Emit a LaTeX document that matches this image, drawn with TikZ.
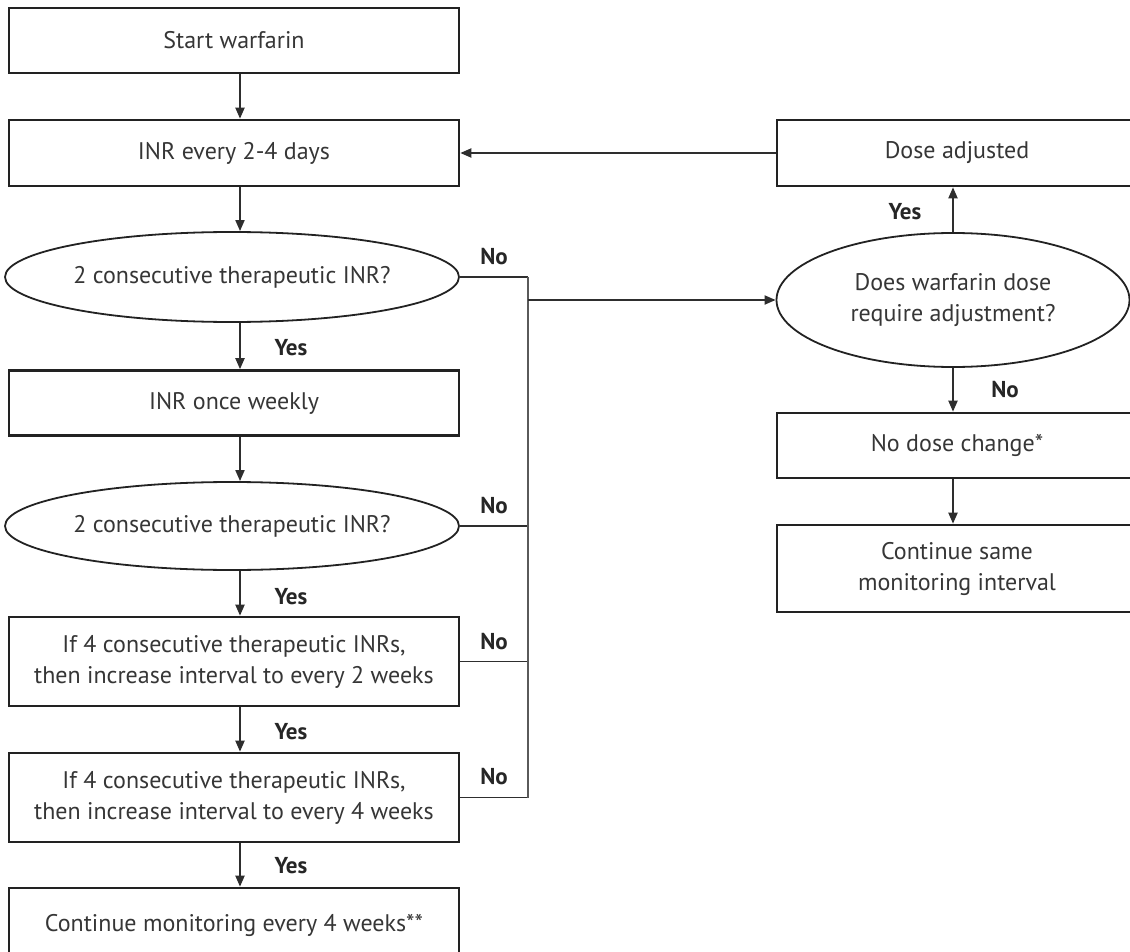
\documentclass[tikz,border=0pt]{standalone}
\usepackage{fontspec}
\setmainfont{PT Sans}
\usetikzlibrary{arrows.meta,shapes.geometric}

\definecolor{ink}{HTML}{363636}
\definecolor{edge}{HTML}{222222}
\definecolor{wire}{HTML}{2E2E2E}
\definecolor{bus}{HTML}{5A5A5A}

\tikzset{
  stepbox/.style={draw=edge, line width=2.6pt, fill=white, rectangle,
    minimum width=450pt, align=center, text=ink, inner sep=0pt,
    font=\fontsize{24}{31}\selectfont},
  rightbox/.style={stepbox, minimum width=360pt},
  query/.style={draw=edge, line width=1.8pt, fill=white, ellipse,
    inner sep=0pt, align=center, text=ink,
    font=\fontsize{24}{31}\selectfont},
  flow/.style={draw=wire, line width=1.9pt,
    -{Triangle[length=11pt,width=9pt]}},
  plain/.style={draw=wire, line width=1.9pt},
  busline/.style={draw=bus, line width=2pt},
  tag/.style={text=black!85, font=\fontsize{23}{28}\selectfont\bfseries},
}

\begin{document}
\begin{tikzpicture}[x=1pt, y=-1pt]
  \useasboundingbox (0,0) rectangle (1130,952);

  % left column
  \node[stepbox, minimum height=65pt] (start) at (234,40.5) {Start warfarin};
  \node[stepbox, minimum height=66pt] (inr24) at (234,153) {INR every 2-4 days};
  \node[query, minimum width=454pt, minimum height=90pt] (q1) at (232,277)
    {2 consecutive therapeutic INR?};
  \node[stepbox, minimum height=65pt] (weekly) at (234,403) {INR once weekly};
  \node[query, minimum width=454pt, minimum height=88pt] (q2) at (232,526)
    {2 consecutive therapeutic INR?};
  \node[stepbox, minimum height=89pt] (two) at (234,661.5)
    {If 4 consecutive therapeutic INRs,\\then increase interval to every 2 weeks};
  \node[stepbox, minimum height=89pt] (four) at (234,797.5)
    {If 4 consecutive therapeutic INRs,\\then increase interval to every 4 weeks};
  \node[stepbox, minimum height=80pt, text depth=10pt] (keep) at (234,928)
    {Continue monitoring every 4 weeks**};

  % right column
  \node[rightbox, minimum height=66pt] (adjusted) at (957,153) {Dose adjusted};
  \node[query, minimum width=353pt, minimum height=134pt] (q3) at (953,300)
    {Does warfarin dose\\require adjustment?};
  \node[rightbox, minimum height=65pt] (nochange) at (957,445.5) {No dose change*};
  \node[rightbox, minimum height=87pt] (same) at (957,568.5)
    {Continue same\\monitoring interval};

  % vertical "No" collector
  \coordinate (rail) at (528,0);
  \coordinate (tap) at (528,300);

  % main downward path
  \draw[flow] ([xshift=6pt]start.south) -- ([xshift=6pt]inr24.north);
  \draw[flow] ([xshift=6pt]inr24.south) -- ([xshift=8pt]q1.north);
  \draw[flow] ([xshift=8pt]q1.south) -- ([xshift=6pt]weekly.north);
  \draw[flow] ([xshift=6pt]weekly.south) -- ([xshift=8pt]q2.north);
  \draw[flow] ([xshift=8pt]q2.south) -- ([xshift=6pt]two.north);
  \draw[flow] ([xshift=6pt]two.south) -- ([xshift=6pt]four.north);
  \draw[flow] ([xshift=6pt]four.south) -- ([xshift=6pt]keep.north);

  \node[tag] (y1) at (291,348) {Yes};
  \node[tag] (y2) at (291,597) {Yes};
  \node[tag] (y3) at (291,732) {Yes};
  \node[tag] (y4) at (291,866) {Yes};

  % "No" branches into the collector
  \draw[plain] (q1.east) -- (q1.east -| rail);
  \draw[plain] (q2.east) -- (q2.east -| rail);
  \draw[plain] (two.east) -- (two.east -| rail);
  \draw[plain] (four.east) -- (four.east -| rail);
  \draw[busline] (q1.east -| rail) -- (four.east -| rail);
  \draw[flow] (tap) -- (q3.west);

  \node[tag] (n1) at (494,257) {No};
  \node[tag] (n2) at (494,506) {No};
  \node[tag] (n3) at (494,642) {No};
  \node[tag] (n4) at (494,777) {No};

  % right-hand decision
  \draw[flow] (q3.north) -- (adjusted.south -| q3.north);
  \draw[flow] (q3.south) -- (nochange.north -| q3.south);
  \draw[flow] (nochange.south -| q3.south) -- (same.north -| q3.south);
  \draw[flow] (adjusted.west) -- (inr24.east);

  \node[tag] (y5) at (905,212) {Yes};
  \node[tag] (n5) at (1005,390) {No};
\end{tikzpicture}
\end{document}
